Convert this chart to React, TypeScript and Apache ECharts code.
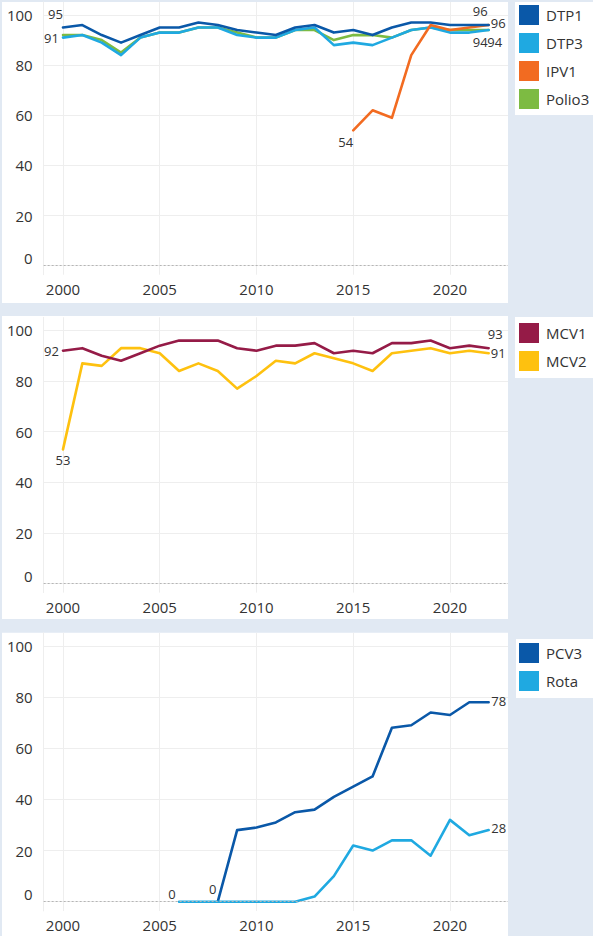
import React, { useEffect, useRef } from 'react';
import * as echarts from 'echarts';

const years = [2000, 2001, 2002, 2003, 2004, 2005, 2006, 2007, 2008, 2009, 2010, 2011, 2012, 2013, 2014, 2015, 2016, 2017, 2018, 2019, 2020, 2021, 2022];
const xTickLabels = [2000, 2005, 2010, 2015, 2020];
const yTickLabels = [0, 20, 40, 60, 80, 100];

const dtp1 = [95, 96, 92, 89, 92, 95, 95, 97, 96, 94, 93, 92, 95, 96, 93, 94, 92, 95, 97, 97, 96, 96, 96];
const dtp3 = [91, 92, 89, 84, 91, 93, 93, 95, 95, 92, 91, 91, 94, 95, 88, 89, 88, 91, 94, 95, 93, 93, 94];
const polio3 = [92, 92, 90, 85, 91, 93, 93, 95, 95, 93, 91, 91, 94, 94, 90, 92, 92, 91, 94, 95, 94, 94, 94];
const ipv1 = [null, null, null, null, null, null, null, null, null, null, null, null, null, null, null, 54, 62, 59, 84, 96, 94, 95, 96];

const mcv1 = [92, 93, 90, 88, 91, 94, 96, 96, 96, 93, 92, 94, 94, 95, 91, 92, 91, 95, 95, 96, 93, 94, 93];
const mcv2 = [53, 87, 86, 93, 93, 91, 84, 87, 84, 77, 82, 88, 87, 91, 89, 87, 84, 91, 92, 93, 91, 92, 91];

const pcv3 = [null, null, null, null, null, null, null, null, 0, 28, 29, 31, 35, 36, 41, 45, 49, 68, 69, 74, 73, 78, 78];
const rota = [null, null, null, null, null, null, 0, 0, 0, 0, 0, 0, 0, 2, 10, 22, 20, 24, 24, 18, 32, 26, 28];

const FONT = '"Open Sans", "Noto Sans", sans-serif';
const TEXT = '#333333';
const GRID_LINE = '#eeeeee';
const BG = '#e1e9f3';

const C_DARK = '#0a58a8';
const C_LIGHT = '#1fa9e1';
const C_ORANGE = '#f26b21';
const C_GREEN = '#7dbb42';
const C_MAROON = '#951b47';
const C_YELLOW = '#fec10f';

type Lbl = { idx: number; dx: number; dy: number };

function makeData(vals: (number | null)[], labels: Lbl[]) {
  const out: any[] = [];
  vals.forEach((v, i) => {
    if (v === null) return;
    const l = labels.find((x) => x.idx === i);
    const item: any = { value: [years[i], v] };
    if (l) {
      item.label = { show: true, position: 'inside', offset: [l.dx, l.dy], formatter: String(v) };
    }
    out.push(item);
  });
  return out;
}

function makeSeries(name: string, color: string, vals: (number | null)[], labels: Lbl[], gi: number, zeroLine = false) {
  const s: any = {
    name,
    type: 'line',
    xAxisIndex: gi,
    yAxisIndex: gi,
    color,
    data: makeData(vals, labels),
    symbol: 'circle',
    symbolSize: 0,
    showSymbol: true,
    lineStyle: { color, width: 2.6, cap: 'round', join: 'round' },
    itemStyle: { color },
    label: { show: false, fontSize: 13, color: TEXT, fontFamily: FONT },
    emphasis: { disabled: true },
    silent: true,
  };
  if (zeroLine) {
    s.markLine = {
      silent: true,
      symbol: ['none', 'none'],
      label: { show: false },
      lineStyle: { color: '#b5b5b5', type: [2, 2], width: 1 },
      data: [{ yAxis: 0 }],
    };
  }
  return s;
}

const gridBoxes = [
  { top: 2, height: 272.7 },
  { top: 317.3, height: 275.3 },
  { top: 632.7, height: 278.2 },
];

export default function App() {
  const ref = useRef<HTMLDivElement>(null);
  useEffect(() => {
    document.body.style.margin = '0';
    if (!ref.current) return;
    const chart = echarts.init(ref.current, undefined, { renderer: 'svg' });

    const grids = gridBoxes.map((g) => ({
      left: 43.65,
      width: 464.35,
      top: g.top,
      height: g.height,
      containLabel: false,
      outerBoundsMode: 'none',
    }));

    const xAxes = gridBoxes.map((_, gi) => ({
      type: 'value',
      gridIndex: gi,
      min: 1999,
      max: 2023,
      splitNumber: 5,
      axisLine: { show: false },
      axisTick: { show: false },
      axisLabel: {
        showMinLabel: false,
        showMaxLabel: false,
        fontSize: 15,
        color: TEXT,
        fontFamily: FONT,
        margin: 7,
        formatter: (v: number) => (xTickLabels.includes(v) ? String(v) : ''),
      },
      splitLine: { show: true, showMinLine: false, showMaxLine: false, lineStyle: { color: GRID_LINE, width: 1 } },
    }));

    const yAxes = gridBoxes.map((_, gi) => ({
      type: 'value',
      gridIndex: gi,
      min: -3.6,
      max: 105.2,
      splitNumber: 5,
      axisLine: { show: true, lineStyle: { color: GRID_LINE, width: 1 } },
      axisTick: { show: false },
      axisLabel: {
        showMinLabel: false,
        showMaxLabel: false,
        fontSize: 15,
        color: TEXT,
        fontFamily: FONT,
        margin: 11,
        formatter: (v: number) => (v === 0 ? '{z|0}' : yTickLabels.includes(v) ? String(v) : ''),
        rich: { z: { fontSize: 15, color: TEXT, fontFamily: FONT, padding: [0, 0, 15, 0] } },
      },
      splitLine: { show: true, showMinLine: false, showMaxLine: false, lineStyle: { color: GRID_LINE, width: 1 } },
    }));

    const series = [
      makeSeries('Polio3', C_GREEN, polio3, [{ idx: 22, dx: 6, dy: 12 }], 0, true),
      makeSeries('DTP3', C_LIGHT, dtp3, [{ idx: 0, dx: -11.5, dy: 0 }, { idx: 22, dx: -8.5, dy: 12 }], 0),
      makeSeries('IPV1', C_ORANGE, ipv1, [{ idx: 15, dx: -7.5, dy: 11.5 }, { idx: 22, dx: 9.5, dy: -2 }], 0),
      makeSeries('DTP1', C_DARK, dtp1, [{ idx: 0, dx: -7.5, dy: -14 }, { idx: 22, dx: -8.5, dy: -14 }], 0),
      makeSeries('MCV2', C_YELLOW, mcv2, [{ idx: 0, dx: 0, dy: 11 }, { idx: 22, dx: 9.5, dy: 0 }], 1, true),
      makeSeries('MCV1', C_MAROON, mcv1, [{ idx: 0, dx: -11.5, dy: 0 }, { idx: 22, dx: 6.5, dy: -14 }], 1),
      makeSeries('PCV3', C_DARK, pcv3, [{ idx: 8, dx: -5, dy: -13 }, { idx: 22, dx: 10, dy: -1 }], 2, true),
      makeSeries('Rota', C_LIGHT, rota, [{ idx: 6, dx: -7, dy: -8 }, { idx: 22, dx: 10, dy: -2 }], 2),
    ];

    const legendBase = {
      orient: 'vertical',
      left: 519,
      padding: 0,
      itemWidth: 20,
      itemHeight: 20,
      itemGap: 8,
      icon: 'rect',
      selectedMode: false,
      textStyle: { fontSize: 15, color: TEXT, fontFamily: FONT, padding: [0, 0, 0, 2] },
    };

    const whiteRect = (x: number, y: number, w: number, h: number) => ({
      type: 'rect',
      z: -10,
      silent: true,
      shape: { x, y, width: w, height: h },
      style: { fill: '#ffffff' },
    });

    chart.setOption({
      animation: false,
      backgroundColor: BG,
      graphic: [
        whiteRect(2, 2, 506, 301),
        whiteRect(2, 316, 506, 303),
        whiteRect(2, 632.7, 506, 304),
        whiteRect(515, 2, 78, 113),
        whiteRect(515, 317, 78, 61),
        whiteRect(516, 639, 77, 59),
      ],
      legend: [
        { ...legendBase, top: 5, data: ['DTP1', 'DTP3', 'IPV1', 'Polio3'] },
        { ...legendBase, top: 323, data: ['MCV1', 'MCV2'] },
        { ...legendBase, top: 643, data: ['PCV3', 'Rota'] },
      ],
      grid: grids,
      xAxis: xAxes,
      yAxis: yAxes,
      series,
    });
    return () => chart.dispose();
  }, []);
  return <div ref={ref} style={{ width: 593, height: 936, background: BG }} />;
}
